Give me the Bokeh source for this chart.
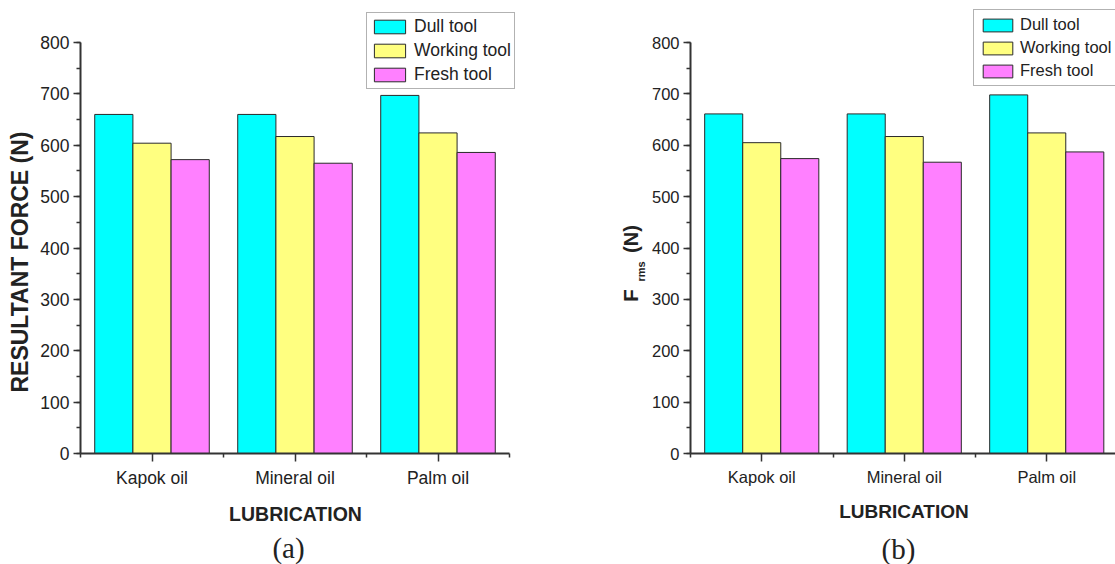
import math

from bokeh.embed import file_html
from bokeh.layouts import row
from bokeh.models import ColumnDataSource, FixedTicker, Label, Range1d, SingleIntervalTicker
from bokeh.plotting import figure
from bokeh.resources import INLINE
from bokeh.transform import dodge

# Lubrication conditions along the x axis
categories = ["Kapok oil", "Mineral oil", "Palm oil"]
tools = ["Dull tool", "Working tool", "Fresh tool"]

# (a) resultant force, N
resultant_dull = [660, 660, 697]
resultant_working = [604, 617, 624]
resultant_fresh = [572, 565, 586]

# (b) RMS force, N
frms_dull = [661, 661, 698]
frms_working = [605, 617, 624]
frms_fresh = [574, 567, 587]

y_axis_max = 800

COLORS = ["#00FFFF", "#FFFF80", "#FF80FF"]
BAR_W = 0.267
SANS = "Liberation Sans"
TEXT = "#222222"
AXIS = "#333333"
H = 564                 # canvas height
Y_PX = 0.51375          # pixels per newton
X0_PY = 453             # pixel row of the zero line


def make_panel(dull, working, fresh, width, axis_px, px_per_cat, tick_size,
               legend_loc, legend_opts):
    """One bar panel whose frame fills the canvas; axes are pinned at x=0.5, y=0."""
    src = ColumnDataSource(dict(
        x=list(range(1, len(categories) + 1)),
        dull=dull, working=working, fresh=fresh,
    ))
    x_start = 0.5 - axis_px / px_per_cat
    x_end = x_start + width / px_per_cat
    y_start = -(H - X0_PY) / Y_PX
    y_end = X0_PY / Y_PX
    p = figure(width=width, height=H, output_backend="svg", toolbar_location=None,
               x_range=Range1d(x_start, x_end), y_range=Range1d(y_start, y_end),
               min_border=0, min_border_left=0, min_border_right=0,
               min_border_top=0, min_border_bottom=0)
    p.outline_line_color = None
    p.grid.visible = False
    p.background_fill_color = "white"
    p.border_fill_color = "white"

    for field, off, color, name in zip(["dull", "working", "fresh"],
                                       [-BAR_W, 0.0, BAR_W], COLORS, tools):
        p.vbar(x=dodge("x", off, range=p.x_range), top=field, width=BAR_W, source=src,
               fill_color=color, line_color="#2a2a2a", line_width=1,
               legend_label=name)

    # y axis: 0..800 with minor ticks every 50, drawn at x = 0.5
    ya = p.yaxis[0]
    ya.fixed_location = 0.5
    ya.ticker = SingleIntervalTicker(interval=100, num_minor_ticks=2)
    ya.bounds = (0, y_axis_max)
    ya.major_tick_out = 7
    ya.major_tick_in = 0
    ya.minor_tick_out = 4
    ya.minor_tick_in = 0
    ya.major_label_standoff = 4

    # x axis: one major tick per lubricant, minor ticks between groups
    xa = p.xaxis[0]
    xa.fixed_location = 0
    xa.ticker = FixedTicker(ticks=[1, 2, 3], minor_ticks=[0.5, 1.5, 2.5, 3.5])
    xa.bounds = (0.5, 3.5)
    xa.major_label_overrides = {i + 1: c for i, c in enumerate(categories)}
    xa.major_tick_out = 8
    xa.major_tick_in = 0
    xa.minor_tick_out = 4
    xa.minor_tick_in = 0
    xa.major_label_standoff = 6

    for ax in (xa, ya):
        ax.axis_line_color = AXIS
        ax.axis_line_width = 2
        ax.major_tick_line_color = AXIS
        ax.major_tick_line_width = 1.5
        ax.minor_tick_line_color = AXIS
        ax.minor_tick_line_width = 1.5
        ax.major_label_text_font = SANS
        ax.major_label_text_font_size = tick_size
        ax.major_label_text_color = TEXT

    lg = p.legend[0]
    lg.location = legend_loc
    lg.border_line_color = "#666666"
    lg.border_line_width = 1
    lg.background_fill_color = "white"
    lg.background_fill_alpha = 1
    lg.label_text_font = SANS
    lg.label_text_color = TEXT
    lg.margin = 0
    for k, v in legend_opts.items():
        setattr(lg, k, v)
    return p


def add_text(p, x, y, text, size, bold=True, font=SANS, angle=0.0):
    """Text placed in canvas pixels measured from the panel's bottom-left corner."""
    p.add_layout(Label(x=x, y=y, x_units="screen", y_units="screen", text=text,
                       angle=angle, text_align="center", text_baseline="middle",
                       text_font=font, text_font_size=size,
                       text_font_style="bold" if bold else "normal",
                       text_color=TEXT))


# (a) Resultant force
pa = make_panel(resultant_dull, resultant_working, resultant_fresh,
                width=560, axis_px=80, px_per_cat=143, tick_size="17.5px",
                legend_loc=(366, 475),
                legend_opts=dict(glyph_width=39, glyph_height=17, label_standoff=5,
                                 padding=3, spacing=3, label_height=17,
                                 label_text_font_size="17.5px"))
add_text(pa, 19.5, 302.5, "RESULTANT FORCE (N)", "23px", angle=math.pi / 2)
add_text(pa, 295, 50.5, "LUBRICATION", "19.5px")
add_text(pa, 288, 17, "(a)", "29px", bold=False, font="Liberation Serif")

# (b) RMS force
pb = make_panel(frms_dull, frms_working, frms_fresh,
                width=555, axis_px=130, px_per_cat=142.5, tick_size="16.5px",
                legend_loc=(413, 478),
                legend_opts=dict(glyph_width=37, glyph_height=16, label_standoff=4,
                                 padding=5, spacing=4, label_height=16,
                                 label_text_font_size="16.5px"))
add_text(pb, 70, 269, "F", "21px", angle=math.pi / 2)
add_text(pb, 80, 293, "rms", "11px", angle=math.pi / 2)
add_text(pb, 70, 325.5, "(N)", "20px", angle=math.pi / 2)
add_text(pb, 343.5, 53, "LUBRICATION", "19px")
add_text(pb, 338, 16, "(b)", "29px", bold=False, font="Liberation Serif")

layout = row(pa, pb, spacing=0)
open("out.html", "w").write(file_html(layout, INLINE))
